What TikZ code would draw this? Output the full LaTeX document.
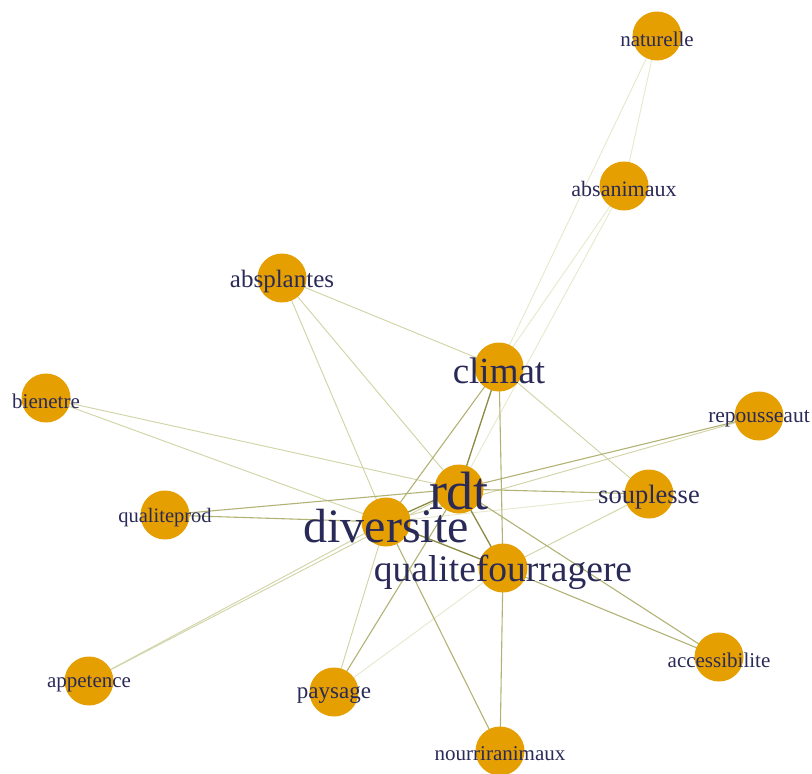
\documentclass[tikz,border=0pt]{standalone}
\usepackage{fontspec}
\setmainfont{Liberation Serif}
\pgfdeclarelayer{edges}
\pgfsetlayers{edges,main}
\definecolor{vfill}{RGB}{230,159,0}
\definecolor{lblc}{RGB}{42,42,88}
\definecolor{ecA}{RGB}{138,138,66}
\definecolor{ecB}{RGB}{178,178,118}
\definecolor{ecC}{RGB}{210,212,168}
\definecolor{ecD}{RGB}{230,233,205}
\tikzset{
  vtx/.style={circle, fill=vfill, draw=none, minimum size=49pt, inner sep=0pt},
  lbl/.style={text=lblc, inner sep=0pt, anchor=center, yshift=-4pt},
  edA/.style={draw=ecA, line width=1.3pt},
  edB/.style={draw=ecB, line width=1.1pt},
  edC/.style={draw=ecC, line width=0.95pt},
  edD/.style={draw=ecD, line width=0.95pt},
}
\newcommand{\fs}[1]{\fontsize{#1}{#1}\selectfont}
\begin{document}
\begin{tikzpicture}[x=1pt,y=-1pt]
\useasboundingbox (0,0) rectangle (812,774);
% vertices
\node[vtx] (naturelle) at (657,36) {};
\node[vtx] (absanimaux) at (624,186) {};
\node[vtx] (absplantes) at (282,278) {};
\node[vtx] (climat) at (499,367) {};
\node[vtx] (bienetre) at (46,398) {};
\node[vtx] (repousseaut) at (759,416) {};
\node[vtx] (rdt) at (459,489) {};
\node[vtx] (souplesse) at (649,494) {};
\node[vtx] (qualiteprod) at (165,515) {};
\node[vtx] (diversite) at (386,522) {};
\node[vtx] (qualitefourragere) at (503,568) {};
\node[vtx] (accessibilite) at (719,657) {};
\node[vtx] (appetence) at (89,681) {};
\node[vtx] (paysage) at (334,692) {};
\node[vtx] (nourriranimaux) at (500,751) {};
% labels
\node[lbl, font=\fs{21}, yshift=1pt] (l-naturelle) at (naturelle.center) {naturelle};
\node[lbl, font=\fs{22}, yshift=1pt] (l-absanimaux) at (absanimaux.center) {absanimaux};
\node[lbl, font=\fs{25}, yshift=1pt] (l-absplantes) at (absplantes.center) {absplantes};
\node[lbl, font=\fs{37}] (l-climat) at (climat.center) {climat};
\node[lbl, font=\fs{21}, yshift=1pt] (l-bienetre) at (bienetre.center) {bienetre};
\node[lbl, font=\fs{21.5}, yshift=1pt] (l-repousseaut) at (repousseaut.center) {repousseaut};
\node[lbl, font=\fs{26.5}, yshift=1pt] (l-souplesse) at (souplesse.center) {souplesse};
\node[lbl, font=\fs{20.5}, yshift=1pt] (l-qualiteprod) at (qualiteprod.center) {qualiteprod};
\node[lbl, font=\fs{21}, yshift=1pt] (l-accessibilite) at (accessibilite.center) {accessibilite};
\node[lbl, font=\fs{21}, yshift=1pt] (l-appetence) at (appetence.center) {appetence};
\node[lbl, font=\fs{23}, yshift=1pt] (l-paysage) at (paysage.center) {paysage};
\node[lbl, font=\fs{21}, yshift=1pt] (l-nourriranimaux) at (nourriranimaux.center) {nourriranimaux};
\node[lbl, font=\fs{37.5}] (l-qualitefourragere) at (qualitefourragere.center) {qualitefourragere};
\node[lbl, font=\fs{48}] (l-diversite) at (diversite.center) {diversite};
\node[lbl, font=\fs{54}, yshift=2pt] (l-rdt) at (rdt.center) {rdt};
% edges
\begin{pgfonlayer}{edges}
\draw[edD] (naturelle.center) -- (absanimaux.center);
\draw[edD] (naturelle.center) -- (climat.center);
\draw[edD] (absanimaux.center) -- (climat.center);
\draw[edD] (absanimaux.center) -- (rdt.center);
\draw[edD] (souplesse.center) -- (diversite.center);
\draw[edD] (paysage.center) -- (qualitefourragere.center);
\draw[edC] (appetence.center) -- (diversite.center);
\draw[edC] (appetence.center) -- (rdt.center);
\draw[edC] (repousseaut.center) -- (diversite.center);
\draw[edC] (paysage.center) -- (diversite.center);
\draw[edC] (climat.center) -- (souplesse.center);
\draw[edC] (souplesse.center) -- (qualitefourragere.center);
\draw[edC] (bienetre.center) -- (rdt.center);
\draw[edC] (bienetre.center) -- (diversite.center);
\draw[edC] (absplantes.center) -- (climat.center);
\draw[edC] (absplantes.center) -- (rdt.center);
\draw[edC] (absplantes.center) -- (diversite.center);
\draw[edB] (rdt.center) -- (souplesse.center);
\draw[edB] (rdt.center) -- (repousseaut.center);
\draw[edB] (qualiteprod.center) -- (rdt.center);
\draw[edB] (qualiteprod.center) -- (diversite.center);
\draw[edB] (climat.center) -- (diversite.center);
\draw[edB] (climat.center) -- (qualitefourragere.center);
\draw[edB] (qualitefourragere.center) -- (nourriranimaux.center);
\draw[edB] (qualitefourragere.center) -- (accessibilite.center);
\draw[edB] (rdt.center) -- (accessibilite.center);
\draw[edB] (diversite.center) -- (nourriranimaux.center);
\draw[edB] (paysage.center) -- (rdt.center);
\draw[edA] (rdt.center) -- (climat.center);
\draw[edA] (rdt.center) -- (diversite.center);
\draw[edA] (rdt.center) -- (qualitefourragere.center);
\draw[edA] (diversite.center) -- (qualitefourragere.center);
\end{pgfonlayer}
\end{tikzpicture}
\end{document}
